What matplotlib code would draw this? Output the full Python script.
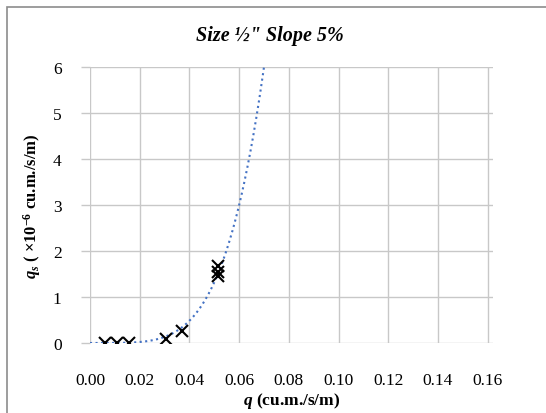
import matplotlib.pyplot as plt
import numpy as np
from matplotlib.patches import Rectangle

plt.rcParams['font.family'] = 'Liberation Serif'
plt.rcParams['mathtext.fontset'] = 'custom'
plt.rcParams['mathtext.it'] = 'Liberation Serif:italic:bold'
plt.rcParams['mathtext.rm'] = 'Liberation Serif:bold'
plt.rcParams['mathtext.bf'] = 'Liberation Serif:bold'

# measured points
q = np.array([0.006, 0.0108, 0.0157, 0.0306, 0.037, 0.0516, 0.0516, 0.0516])
qs = np.array([0.0, 0.0, 0.0, 0.09, 0.27, 1.68, 1.55, 1.46])

# power trendline qs = a * q^n
trend_n = 4.5
trend_a = 3.0 / 0.06 ** trend_n

xticks = [0.00, 0.02, 0.04, 0.06, 0.08, 0.10, 0.12, 0.14, 0.16]
yticks = [0, 1, 2, 3, 4, 5, 6]

fig = plt.figure(figsize=(5.46, 4.14), dpi=100)
ax = fig.add_axes([90/546, 1-344/414, (492.7-90)/546, (344-68)/414])

qq = np.linspace(0, 0.08, 400)
ax.plot(qq, trend_a * qq ** trend_n, ':', color='#4472C4', lw=1.5)
ax.plot(q, qs, 'x', color='black', ms=8, mew=1.5)

ax.set_xlim(0, 0.162)
ax.set_ylim(0, 6)
ax.set_xticks(xticks)
ax.set_xticklabels(['%.2f' % t for t in xticks])
ax.set_yticks(yticks)
ax.grid(True, color='#c8c8c8', lw=1)
ax.set_axisbelow(True)
for s in ax.spines.values():
    s.set_visible(False)
ax.tick_params(axis='x', length=0, pad=21, labelsize=12.5)
ax.tick_params(axis='y', length=6.5, color='#c8c8c8', width=1, pad=14, labelsize=12.5)

ax.set_xlabel('$q$ (cu.m./s/m)', fontsize=12.5, fontweight='bold', labelpad=1)
ax.set_ylabel('$q_s$ ( ×10$^{-6}$ cu.m./s/m)', fontsize=12, fontweight='bold', labelpad=7)

fig.text(270/546, 1-36/414, 'Size ½" Slope 5%', ha='center', va='center',
         fontsize=14.5, fontweight='bold', fontstyle='italic')

fig.patches.append(Rectangle((7/546, -0.1), 2, 1.1 - 8/414, transform=fig.transFigure,
                             fill=False, edgecolor='#8c8c8c', lw=1.2))

fig.savefig('out.png', dpi=100)
